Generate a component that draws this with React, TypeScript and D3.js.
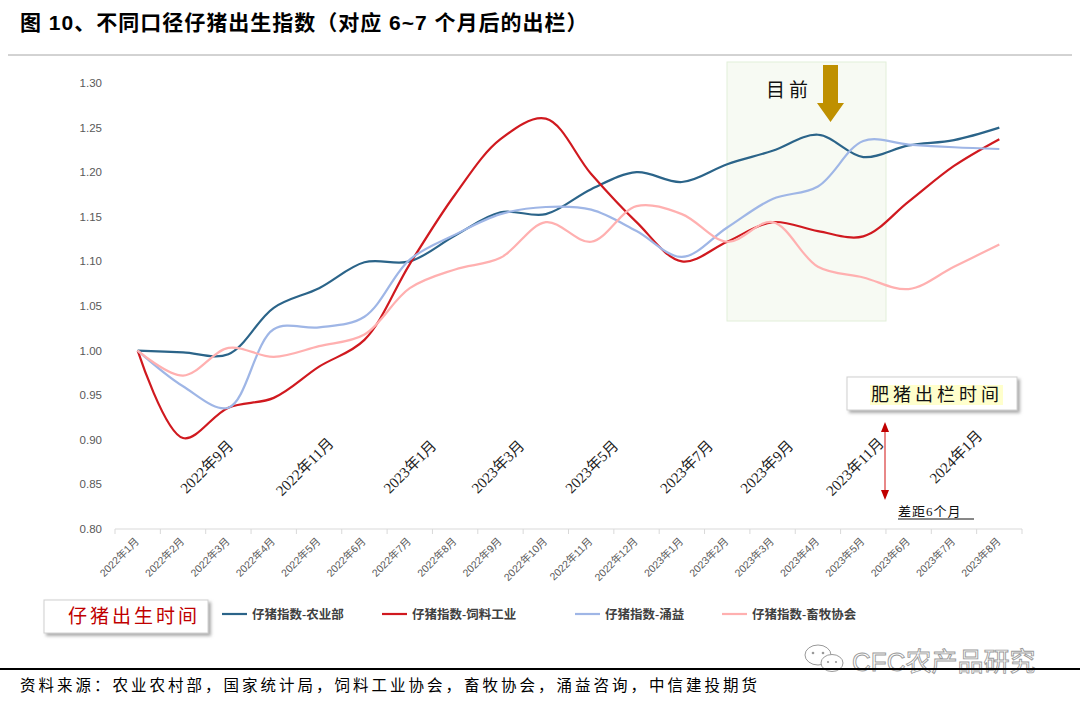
import React from "react";
import * as d3 from "d3";

const categories = [
  "2022年1月", "2022年2月", "2022年3月", "2022年4月", "2022年5月", "2022年6月",
  "2022年7月", "2022年8月", "2022年9月", "2022年10月", "2022年11月", "2022年12月",
  "2023年1月", "2023年2月", "2023年3月", "2023年4月", "2023年5月", "2023年6月",
  "2023年7月", "2023年8月",
];

const seriesNames = ["仔猪指数-农业部", "仔猪指数-饲料工业", "仔猪指数-涌益", "仔猪指数-畜牧协会"];

const moaIndex = [1.0, 0.998, 0.996, 1.048, 1.07, 1.099, 1.1, 1.129, 1.155, 1.153, 1.181, 1.2, 1.189, 1.209, 1.224, 1.242, 1.217, 1.23, 1.236, 1.25];
const feedIndex = [1.0, 0.902, 0.936, 0.947, 0.982, 1.012, 1.097, 1.175, 1.237, 1.26, 1.198, 1.144, 1.1, 1.122, 1.144, 1.134, 1.128, 1.167, 1.207, 1.237];
const yongyiIndex = [1.0, 0.96, 0.936, 1.024, 1.026, 1.038, 1.102, 1.13, 1.153, 1.161, 1.158, 1.134, 1.105, 1.138, 1.17, 1.184, 1.235, 1.231, 1.228, 1.226];
const husbandryIndex = [1.0, 0.972, 1.003, 0.993, 1.005, 1.018, 1.07, 1.091, 1.104, 1.144, 1.122, 1.162, 1.153, 1.122, 1.144, 1.094, 1.082, 1.069, 1.094, 1.119];

const seriesColors = ["#2b6489", "#d0191f", "#9fb6e6", "#ffb0b0"];

const yTicks = [0.8, 0.85, 0.9, 0.95, 1.0, 1.05, 1.1, 1.15, 1.2, 1.25, 1.3];

// 肥猪出栏时间 labels (category-unit positions along the x axis)
const fatLabels = ["2022年9月", "2022年11月", "2023年1月", "2023年3月", "2023年5月", "2023年7月", "2023年9月", "2023年11月", "2024年1月"];
const fatLabelPos = [1.55, 3.71, 6.03, 7.97, 10.04, 12.13, 13.9, 15.84, 18.07];

const TITLE = "图 10、不同口径仔猪出生指数（对应 6~7 个月后的出栏）";
const SOURCE = "资料来源：农业农村部，国家统计局，饲料工业协会，畜牧协会，涌益咨询，中信建投期货";

const SERIF = "'Liberation Serif', 'Noto Sans CJK SC', serif";
const SANS = "'Liberation Sans', 'Noto Sans CJK SC', sans-serif";

export default function App() {
  const W = 1080, H = 708;
  const left = 115, right = 1022, top = 83, bottom = 529;

  const x = d3.scaleBand<string>().domain(categories).range([left, right]);
  const xc = (i: number) => (x(categories[0]) as number) + x.bandwidth() * (i + 0.5);
  const y = d3.scaleLinear().domain([0.8, 1.3]).range([bottom, top]);

  const allSeries = [moaIndex, feedIndex, yongyiIndex, husbandryIndex];
  const line = d3
    .line<number>()
    .x((_, i) => xc(i))
    .y((d) => y(d))
    .curve(d3.curveCatmullRom.alpha(0.5));

  const legendX = [222, 382, 575, 722];

  return (
    <svg width={W} height={H} style={{ position: "absolute", left: 0, top: 0, background: "#fff" }}>
      <defs>
        <filter id="shadow" x="-10%" y="-20%" width="130%" height="160%">
          <feDropShadow dx="2.5" dy="2.5" stdDeviation="1.5" floodColor="#888" floodOpacity="0.7" />
        </filter>
      </defs>
      <rect x={0} y={0} width={W} height={H} fill="#fff" />

      {/* title */}
      <text x={20} y={30} fontFamily={SANS} fontWeight="bold" fontSize={21} fill="#000" letterSpacing={1}>
        {TITLE}
      </text>
      <line x1={8} x2={1072} y1={55} y2={55} stroke="#a6a6a6" strokeWidth={1} />

      {/* current window highlight */}
      <rect x={727} y={62} width={159} height={259} fill="#f7faf3" stroke="#e2efd9" strokeWidth={1} />

      {/* y axis labels */}
      {yTicks.map((t) => (
        <text key={t} x={102} y={y(t) + 4} textAnchor="end" fontFamily={SANS} fontSize={11.5} fill="#595959">
          {t.toFixed(2)}
        </text>
      ))}

      {/* x axis */}
      <line x1={left} x2={right} y1={bottom} y2={bottom} stroke="#d9d9d9" strokeWidth={1} />
      {d3.range(categories.length + 1).map((i) => {
        const tx = left + x.bandwidth() * i;
        return <line key={i} x1={tx} x2={tx} y1={bottom} y2={bottom + 5} stroke="#d9d9d9" strokeWidth={1} />;
      })}
      {categories.map((c, i) => (
        <text
          key={c}
          transform={`translate(${xc(i) + 2},${bottom + 13}) rotate(-45)`}
          textAnchor="end"
          fontFamily={SANS}
          fontSize={10.5}
          fill="#595959"
        >
          {c}
        </text>
      ))}

      {/* lines */}
      {allSeries.map((s, k) => (
        <path key={k} d={line(s) || ""} fill="none" stroke={seriesColors[k]} strokeWidth={2.2} strokeLinejoin="round" />
      ))}

      {/* fattening-pig sale time labels */}
      {fatLabels.map((l, k) => (
        <text
          key={l}
          transform={`translate(${xc(fatLabelPos[k])},${k === fatLabels.length - 1 ? 458 : 468}) rotate(-45)`}
          textAnchor="middle"
          dominantBaseline="middle"
          fontFamily={SERIF}
          fontSize={15}
          fill="#222"
        >
          {l}
        </text>
      ))}

      {/* 目前 + arrow */}
      <text x={766} y={97} fontFamily={SERIF} fontSize={19} fill="#111" letterSpacing={4}>
        目前
      </text>
      <path d="M823,65 L838,65 L838,103 L844,103 L830.5,122 L817,103 L823,103 Z" fill="#bf9000" />

      {/* 肥猪出栏时间 box */}
      <rect x={847} y={377} width={170} height={33} fill="#fff" stroke="#d0d0d0" strokeWidth={1} filter="url(#shadow)" />
      <rect x={870} y={385} width={133} height={20} fill="#ffffcc" />
      <text x={871} y={401} fontFamily={SERIF} fontSize={18} fill="#111" letterSpacing={4}>
        肥猪出栏时间
      </text>

      {/* double arrow */}
      <line x1={885} x2={885} y1={430} y2={492} stroke="#e06060" strokeWidth={1.5} />
      <path d="M885,422 L889,432 L881,432 Z" fill="#c00000" />
      <path d="M885,500 L889,490 L881,490 Z" fill="#c00000" />
      <text x={898} y={516} fontFamily={SERIF} fontSize={13} fill="#111" letterSpacing={1}>
        差距6个月
      </text>
      <line x1={898} x2={974} y1={519} y2={519} stroke="#111" strokeWidth={1} />

      {/* 仔猪出生时间 box */}
      <rect x={44} y={600} width={164} height={33} fill="#fff" stroke="#d0d0d0" strokeWidth={1} filter="url(#shadow)" />
      <text x={68} y={623} fontFamily={SERIF} fontSize={19} fill="#c00000" letterSpacing={3}>
        仔猪出生时间
      </text>

      {/* legend */}
      {seriesNames.map((n, k) => (
        <g key={n}>
          <line x1={legendX[k]} x2={legendX[k] + 25} y1={614} y2={614} stroke={seriesColors[k]} strokeWidth={2.2} />
          <text x={legendX[k] + 30} y={619} fontFamily={SERIF} fontWeight="bold" fontSize={12.5} fill="#404040">
            {n}
          </text>
        </g>
      ))}

      {/* watermark */}
      <g fill="#fff" stroke="#9a9a9a" strokeWidth={1}>
        <ellipse cx={818} cy={655} rx={13} ry={10} />
        <ellipse cx={832} cy={663} rx={11} ry={8.5} />
        <circle cx={813} cy={653} r={1.3} fill="#9a9a9a" stroke="none" />
        <circle cx={823} cy={653} r={1.3} fill="#9a9a9a" stroke="none" />
        <circle cx={828} cy={662} r={1.1} fill="#9a9a9a" stroke="none" />
        <circle cx={836} cy={662} r={1.1} fill="#9a9a9a" stroke="none" />
      </g>
      <text x={852} y={671} fontFamily={SANS} fontSize={26} fill="#fff" stroke="#9a9a9a" strokeWidth={0.9}>
        CFC农产品研究
      </text>

      {/* bottom rule + source */}
      <line x1={0} x2={1080} y1={669} y2={669} stroke="#000" strokeWidth={2} />
      <text x={20} y={691} fontFamily={SERIF} fontSize={15.5} fill="#000" letterSpacing={3}>
        {SOURCE}
      </text>
    </svg>
  );
}
